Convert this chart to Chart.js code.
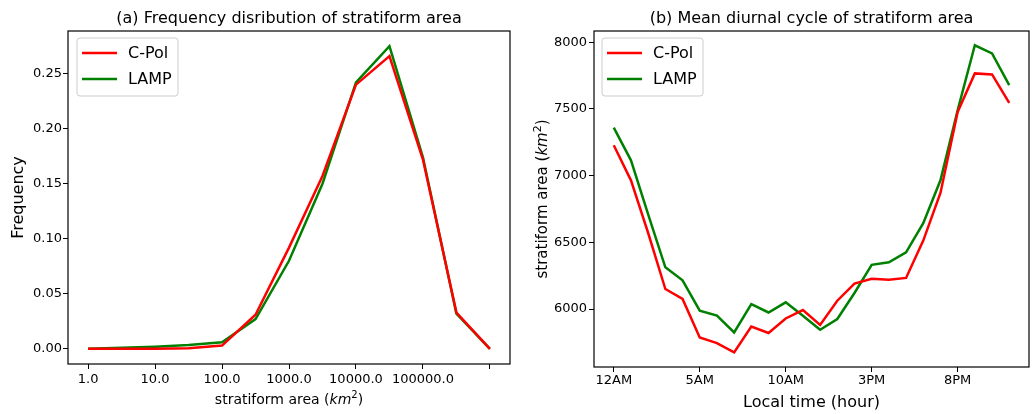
<!DOCTYPE html>
<html><head><meta charset="utf-8">
<script src="https://cdn.jsdelivr.net/npm/chart.js@4.4.1/dist/chart.umd.min.js"></script>
<style>
html,body{margin:0;padding:0;background:#fff;}
body{width:1034px;height:414px;position:relative;overflow:hidden;}
canvas{position:absolute;top:0;}
#cA{left:0;} #cB{left:517px;}
</style></head><body>
<canvas id="cA" width="517" height="414"></canvas>
<canvas id="cB" width="517" height="414"></canvas>
<script>
const FONT = "'DejaVu Sans', 'Liberation Sans', sans-serif";

// ---- panel (a): frequency distribution of stratiform area ----
const titleA = '(a) Frequency disribution of stratiform area';
const areaIndex = [0,1,2,3,4,5,6,7,8,9,10,11,12];
const areaTickPos = [0,2,4,6,8,10,12];
const areaTickLabels = ['1.0','10.0','100.0','1000.0','10000.0','100000.0',''];
const freqCPol = [0, 0, 0, 0.0005, 0.003, 0.031, 0.092, 0.157, 0.240, 0.266, 0.172, 0.033, 0];
const freqLAMP = [0, 0.001, 0.002, 0.0035, 0.006, 0.027, 0.080, 0.150, 0.242, 0.275, 0.174, 0.032, 0];
const freqTicks = [0, 0.05, 0.10, 0.15, 0.20, 0.25];

// ---- panel (b): mean diurnal cycle ----
const titleB = '(b) Mean diurnal cycle of stratiform area';
const hours = [0,1,2,3,4,5,6,7,8,9,10,11,12,13,14,15,16,17,18,19,20,21,22,23];
const hourTickPos = [0,5,10,15,20];
const hourTickLabels = ['12AM','5AM','10AM','3PM','8PM'];
const diurnalCPol = [7228,6965,6570,6150,6075,5786,5744,5674,5869,5820,5929,5992,5880,6062,6190,6226,6220,6233,6513,6870,7478,7767,7759,7546];
const diurnalLAMP = [7360,7115,6710,6313,6215,5987,5950,5824,6037,5974,6050,5950,5844,5925,6120,6331,6350,6425,6644,6965,7491,7978,7917,7679];
const areaTicks = [6000,6500,7000,7500,8000];

const seriesNames = ['C-Pol','LAMP'];
const seriesColors = ['#ff0000','#008000'];
const areaTitleParts = [{t:'stratiform area ('},{t:'km',it:true},{t:'2',sup:true},{t:')'}];

function drawParts(ctx, parts, size, cx, cy, rot){
  const fontOf = p => (p.it ? 'italic ' : '') + (p.sup ? Math.round(size*0.7) : size) + 'px ' + FONT;
  let total = 0;
  parts.forEach(p => { ctx.font = fontOf(p); p.w = ctx.measureText(p.t).width; total += p.w; });
  ctx.save();
  ctx.translate(cx, cy);
  ctx.rotate(rot);
  ctx.fillStyle = '#000';
  ctx.textBaseline = 'alphabetic';
  ctx.textAlign = 'left';
  let x = -total/2;
  parts.forEach(p => { ctx.font = fontOf(p); ctx.fillText(p.t, x, p.sup ? -size*0.42 : 0); x += p.w; });
  ctx.restore();
}

function decor(cfg){
  return {
    id: 'decor',
    afterDatasetsDraw(chart){
      const {ctx, chartArea:a} = chart;
      ctx.save();
      ctx.strokeStyle = '#000'; ctx.lineWidth = 1.2;
      ctx.strokeRect(a.left, a.top, a.right - a.left, a.bottom - a.top);
      // legend
      const bx = a.left + cfg.legX, by = a.top + 7, bw = 101, bh = 58, r = 3;
      ctx.beginPath();
      ctx.moveTo(bx + r, by); ctx.lineTo(bx + bw - r, by); ctx.arcTo(bx + bw, by, bx + bw, by + r, r);
      ctx.lineTo(bx + bw, by + bh - r); ctx.arcTo(bx + bw, by + bh, bx + bw - r, by + bh, r);
      ctx.lineTo(bx + r, by + bh); ctx.arcTo(bx, by + bh, bx, by + bh - r, r);
      ctx.lineTo(bx, by + r); ctx.arcTo(bx, by, bx + r, by, r); ctx.closePath();
      ctx.fillStyle = 'rgba(255,255,255,0.8)'; ctx.fill();
      ctx.strokeStyle = '#cccccc'; ctx.lineWidth = 1; ctx.stroke();
      chart.data.datasets.forEach((ds, i) => {
        const y = by + 15 + i * 26;
        ctx.strokeStyle = ds.borderColor; ctx.lineWidth = 2.5;
        ctx.beginPath(); ctx.moveTo(bx + 5, y); ctx.lineTo(bx + 40, y); ctx.stroke();
        ctx.fillStyle = '#000'; ctx.font = '16px ' + FONT;
        ctx.textBaseline = 'middle'; ctx.textAlign = 'left';
        ctx.fillText(ds.label, bx + 51, y + 1);
      });
      ctx.restore();
    },
    afterDraw(chart){
      const {ctx, chartArea:a} = chart;
      ctx.save();
      ctx.fillStyle = '#000'; ctx.font = '16px ' + FONT;
      ctx.textAlign = 'center'; ctx.textBaseline = 'middle';
      ctx.fillText(cfg.title, (a.left + a.right)/2, 19);
      ctx.restore();
      if (cfg.xParts) drawParts(ctx, cfg.xParts, 14, (a.left + a.right)/2, 404, 0);
      if (cfg.yParts) drawParts(ctx, cfg.yParts, 15, 30, (a.top + a.bottom)/2, -Math.PI/2);
    }
  };
}

function setTicks(list){ return axis => { axis.ticks = list.map(v => ({value: v})); }; }
const tickFont = {family: FONT, size: 13};
const gridOpt = {display: true, drawOnChartArea: false, drawTicks: true, tickLength: 5, tickColor: '#000', tickWidth: 1};

function makeDatasets(xs, a, b){
  return [a, b].map((arr, i) => ({
    label: seriesNames[i],
    data: xs.map((x, j) => ({x: x, y: arr[j]})),
    borderColor: seriesColors[i], backgroundColor: seriesColors[i],
    borderWidth: 2.5, pointRadius: 0, tension: 0, fill: false
  }));
}

new Chart(document.getElementById('cA'), {
  type: 'line',
  data: {datasets: makeDatasets(areaIndex, freqCPol, freqLAMP)},
  options: {
    responsive: false, animation: false, devicePixelRatio: 1,
    layout: {padding: {left: 0, right: 7, top: 31, bottom: 0}},
    plugins: {legend: {display: false}, tooltip: {enabled: false}, title: {display: false}},
    scales: {
      x: {
        type: 'linear', min: -0.6, max: 12.6,
        afterBuildTicks: setTicks(areaTickPos),
        afterFit: s => { s.height = 50; },
        grid: gridOpt, border: {display: false},
        ticks: {font: tickFont, color: '#000', padding: 3, maxRotation: 0, autoSkip: false,
          callback: v => areaTickLabels[areaTickPos.indexOf(v)]},
        title: {display: false}
      },
      y: {
        type: 'linear', min: -0.01375, max: 0.28875,
        afterBuildTicks: setTicks(freqTicks),
        afterFit: s => { s.width = 68; },
        grid: gridOpt, border: {display: false},
        ticks: {font: tickFont, color: '#000', padding: 1, callback: v => v.toFixed(2)},
        title: {display: true, text: 'Frequency', color: '#000', font: {family: FONT, size: 16}, padding: {top: 9.4, bottom: 0}}
      }
    }
  },
  plugins: [decor({title: titleA, legX: 9, xParts: areaTitleParts})]
});

new Chart(document.getElementById('cB'), {
  type: 'line',
  data: {datasets: makeDatasets(hours, diurnalCPol, diurnalLAMP)},
  options: {
    responsive: false, animation: false, devicePixelRatio: 1,
    layout: {padding: {left: 0, right: 5, top: 31, bottom: 0}},
    plugins: {legend: {display: false}, tooltip: {enabled: false}, title: {display: false}},
    scales: {
      x: {
        type: 'linear', min: -1.15, max: 24.15,
        afterBuildTicks: setTicks(hourTickPos),
        afterFit: s => { s.height = 47; },
        grid: gridOpt, border: {display: false},
        ticks: {font: tickFont, color: '#000', padding: 1, maxRotation: 0, autoSkip: false,
          callback: v => hourTickLabels[hourTickPos.indexOf(v)]},
        title: {display: true, text: 'Local time (hour)', color: '#000', font: {family: FONT, size: 16}, padding: {top: 0, bottom: 2}}
      },
      y: {
        type: 'linear', min: 5565, max: 8085,
        afterBuildTicks: setTicks(areaTicks),
        afterFit: s => { s.width = 77; },
        grid: gridOpt, border: {display: false},
        ticks: {font: tickFont, color: '#000', padding: 2, callback: v => String(v)},
        title: {display: false}
      }
    }
  },
  plugins: [decor({title: titleB, legX: 8, yParts: areaTitleParts})]
});
</script>
</body></html>
